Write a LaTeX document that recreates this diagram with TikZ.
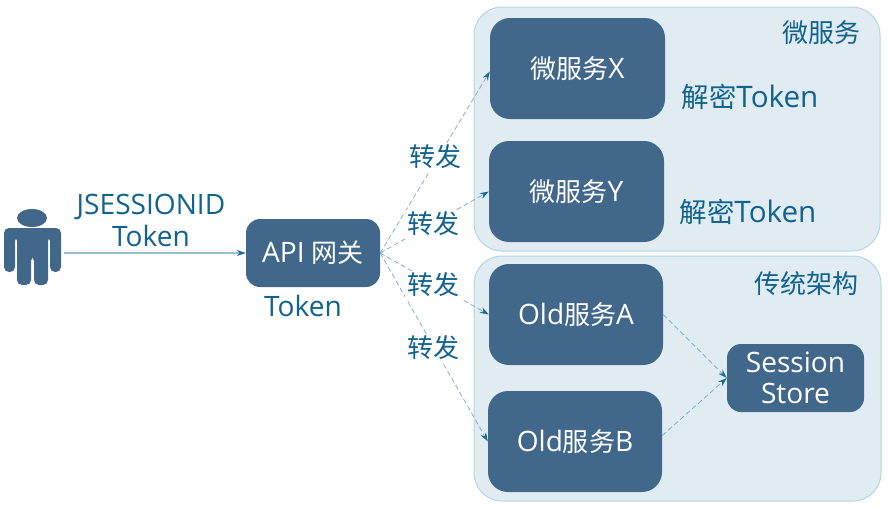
\documentclass[tikz,border=0pt]{standalone}
\usepackage{fontspec}
\setmainfont[Scale=1.08]{Open Sans}
\newfontfamily\cjk{Noto Sans CJK SC}
\usetikzlibrary{arrows.meta}
\definecolor{boxblue}{HTML}{41678B}
\definecolor{panelfill}{HTML}{E0ECF2}
\definecolor{paneledge}{HTML}{B4D6E2}
\definecolor{labelblue}{HTML}{11628F}
\definecolor{dashblue}{HTML}{7FB0CC}
\definecolor{tipblue}{HTML}{1A6C9C}
\tikzset{
  panel/.style={draw=paneledge, fill=panelfill, line width=1pt, rounded corners=28pt},
  service/.style={draw=none, fill=boxblue, text=white, rounded corners=20pt, font=\fontsize{26}{30}\selectfont, align=center, inner sep=0pt},
  tag/.style={text=labelblue, font=\fontsize{26}{32}\selectfont, inner sep=0pt, align=center},
  bigtag/.style={tag, font=\fontsize{27.4}{32}\selectfont},
  hop/.style={tag, fill=white, inner sep=2pt},
  forward/.style={dashed, dash pattern=on 5pt off 3pt, draw=dashblue, line width=0.8pt, -{Stealth[length=9pt,width=6pt,color=tipblue]}},
}
\begin{document}
\begin{tikzpicture}[x=1pt, y=-1pt]
    \useasboundingbox (0,0) rectangle (888,507);

    % Panels
    \draw[panel] (474,7) rectangle (880,251);
    \draw[panel] (474,256) rectangle (881,501);

    % Person
    \fill[boxblue] (32,218) ellipse (15pt and 9pt);
    \fill[boxblue, rounded corners=5pt] (4,272) -- (4,228) -- (61,228) -- (61,272)
        -- (50,272) -- (50,236) -- (48,236) -- (48,285) -- (34,285) -- (34,256)
        -- (31,256) -- (31,285) -- (17,285) -- (17,236) -- (15,236) -- (15,272) -- cycle;
    \coordinate (user) at (64,253);

    % Gateway and services
    \node[service, minimum width=134pt, minimum height=68pt, rounded corners=14pt] (api) at (313,253) {API {\cjk 网关}};
    \node[service, minimum width=175pt, minimum height=101pt] (svcx) at (577.5,68.5) {{\cjk 微服务}X};
    \node[service, minimum width=175pt, minimum height=101pt] (svcy) at (576.5,191.5) {{\cjk 微服务}Y};
    \node[service, minimum width=174pt, minimum height=101pt] (olda) at (576,314.5) {Old{\cjk 服务}A};
    \node[service, minimum width=174pt, minimum height=101pt] (oldb) at (575,441.5) {Old{\cjk 服务}B};
    \node[service, minimum width=137pt, minimum height=68pt, rounded corners=14pt] (store) at (795.5,378) {Session\\[1pt]Store};

    % Connectors
    \draw[draw=dashblue!80, line width=1.2pt, -{Stealth[length=9pt,width=6pt,color=tipblue]}] (user) -- (api.west);
    \draw[forward] (api.east) -- ([yshift=-3pt]svcx.west);
    \draw[forward] (api.east) -- (svcy.west);
    \draw[forward] (api.east) -- (olda.west);
    \draw[forward] (api.east) -- (oldb.west);
    \draw[forward] (olda.east) -- (store.west);
    \draw[forward] ([yshift=6pt]oldb.east) -- (store.west);

    % Labels
    \node[tag] (cred) at (151,220) {JSESSIONID\\Token};
    \node[tag] (gwtoken) at (303,306) {Token};
    \node[hop] (hopx) at (435,157) {\cjk 转发};
    \node[hop] (hopy) at (433,224) {\cjk 转发};
    \node[hop] (hopa) at (433,285) {\cjk 转发};
    \node[hop] (hopb) at (433,348) {\cjk 转发};
    \node[bigtag] (decx) at (750,97) {{\cjk 解密}Token};
    \node[bigtag] (decy) at (748,212) {{\cjk 解密}Token};
    \node[tag] (micro) at (821,33) {\cjk 微服务};
    \node[tag] (legacy) at (806,284) {\cjk 传统架构};
\end{tikzpicture}
\end{document}
